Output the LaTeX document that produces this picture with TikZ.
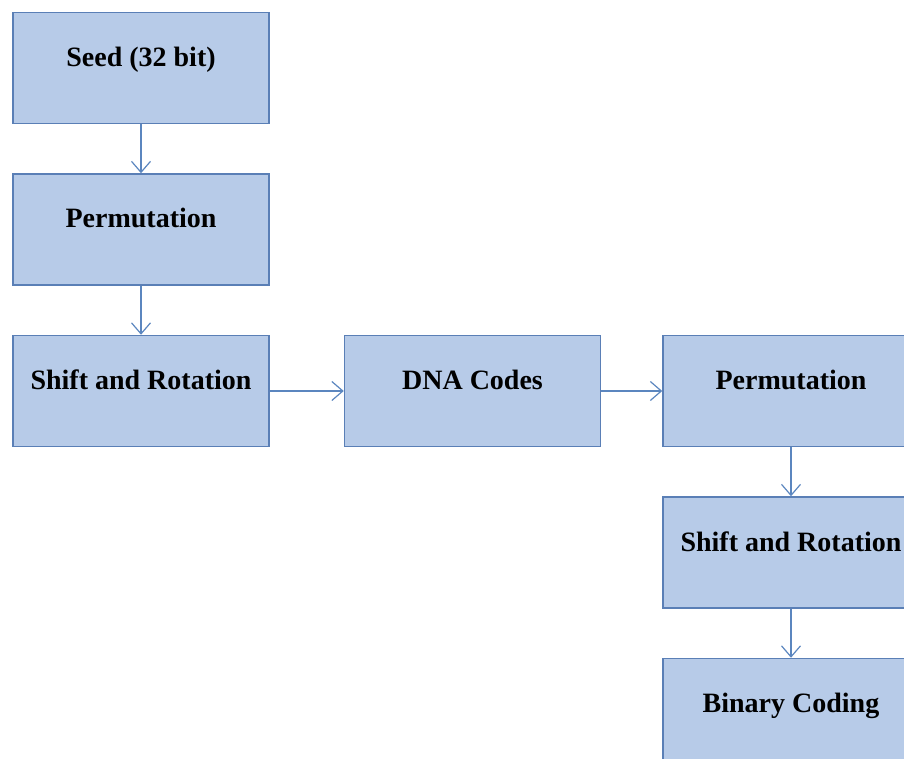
\documentclass[tikz,border=0pt]{standalone}
\usepackage{fontspec}
\setmainfont{Liberation Serif}
\usepackage{xcolor}
\usepackage{tikz}
\usetikzlibrary{positioning,arrows.meta}

\definecolor{boxfill}{HTML}{B7CBE8}
\definecolor{boxline}{HTML}{5A7FB6}
\definecolor{arrline}{HTML}{5B86BF}

\begin{document}
\begin{tikzpicture}[
  x=1pt, y=1pt,
  font=\fontsize{28}{32}\selectfont\bfseries,
  node distance=49pt,
  n/.style={draw=boxline, line width=1.5pt, fill=boxfill, inner sep=0pt,
            minimum width=256pt, minimum height=111pt,
            text height=20pt, text depth=23pt},
  a/.style={->, draw=arrline, line width=1.2pt},
  >={Straight Barb[length=11pt,width=19pt]}
]
\useasboundingbox (0,0) rectangle (904,-759);

\node[n] (seed) at (141,-68) {Seed (32 bit)};
\node[n, below=of seed] (perm) {Permutation};
\node[n, below=of perm] (shift) {Shift and Rotation};
\node[n, right=74pt of shift] (dna) {DNA Codes};
\node[n, right=61pt of dna] (perm2) {Permutation};
\node[n, below=of perm2] (shift2) {Shift and Rotation};
\node[n, below=of shift2] (bin) {Binary Coding};

\draw[a] (seed) -- (perm);
\draw[a] (perm) -- (shift);
\draw[a] (shift) -- (dna);
\draw[a] (dna) -- (perm2);
\draw[a] (perm2) -- (shift2);
\draw[a] (shift2) -- (bin);
\end{tikzpicture}
\end{document}
